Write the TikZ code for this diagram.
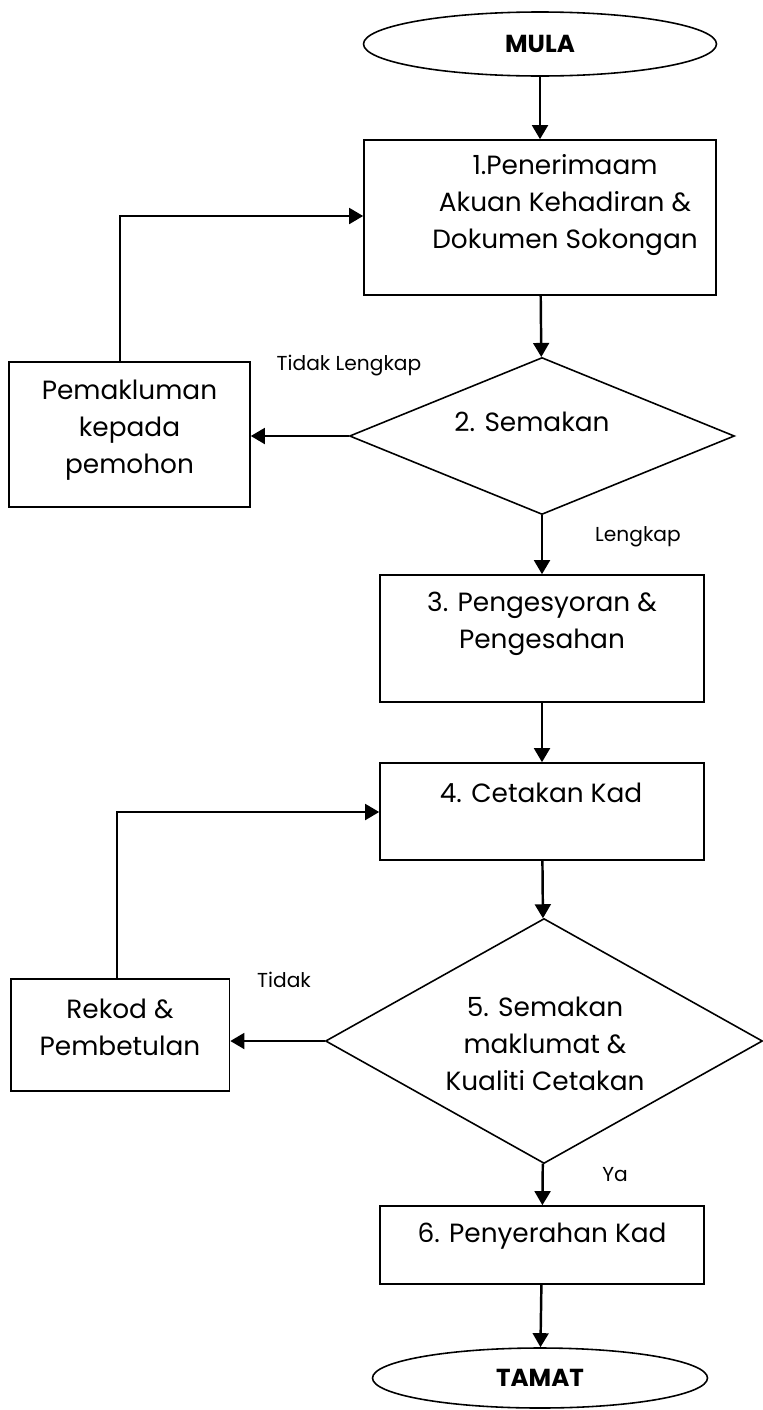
\documentclass[tikz,border=0pt]{standalone}
\usepackage{fontspec}
\setmainfont{Poppins}
\usetikzlibrary{shapes.geometric, positioning, arrows.meta, fit}
\newdimen\pxu
\pxu=0.02cm

\begin{document}
\begin{tikzpicture}[x=0.02cm, y=-0.02cm,
    box/.style={draw, line width=0.9pt, rectangle, inner sep=0pt},
    decision/.style={draw, line width=0.9pt, diamond, inner sep=0pt},
    terminal/.style={draw, line width=0.9pt, ellipse, inner sep=0pt, font=\fontsize{14}{16}\selectfont\bfseries},
    txt/.style={align=center, font=\fontsize{15}{21}\selectfont},
    note/.style={font=\fontsize{11.5}{13}\selectfont},
    flow/.style={-{Triangle[length=8pt, width=9pt]}, line width=1.4pt}]
    \useasboundingbox (0,0) rectangle (762,1410);

    % Start
    \node[terminal, minimum width=353*\pxu, minimum height=64*\pxu] (mula) at (540,44) {MULA};

    % Step 1
    \node[box, fit={(364,140) (716,295)}] (b1) {};
    \node[txt] (t1) at (565,205) {1.Penerimaam\\Akuan Kehadiran \&\\Dokumen Sokongan};

    % Step 2 (check) and the notice box on the left
    \node[decision, minimum width=385*\pxu, minimum height=157*\pxu] (d2) at (542,436) {};
    \node[txt] (t2) at (532,422) {2. Semakan};
    \node[box, fit={(9,362) (250,507)}] (p1) {};
    \node[txt] (tp1) at (129.5,430) {Pemakluman\\kepada\\pemohon};

    % Step 3 and 4
    \node[box, fit={(380,575) (704,702)}] (b3) {};
    \node[txt] (t3) at (542,623.5) {3. Pengesyoran \&\\Pengesahan};
    \node[box, fit={(380,763) (704,860)}] (b4) {};
    \node[txt] (t4) at (541,793) {4. Cetakan Kad};

    % Step 5 (check) and the correction box on the left
    \node[decision, minimum width=437*\pxu, minimum height=245*\pxu] (d5) at (544,1041) {};
    \node[txt] (t5) at (545,1044) {5. Semakan\\maklumat \&\\Kualiti Cetakan};
    \node[box, fit={(11,979) (229.5,1091)}] (r5) {};
    \node[txt] (tr5) at (120,1027) {Rekod \&\\Pembetulan};

    % Step 6 and end
    \node[box, fit={(380,1206) (704,1284)}] (b6) {};
    \node[txt] (t6) at (542,1236) {6. Penyerahan Kad};
    \node[terminal, minimum width=335*\pxu, minimum height=60*\pxu] (tamat) at (540,1378) {TAMAT};

    % Branch labels
    \node[note] (nl1) at (349,366) {Tidak Lengkap};
    \node[note] (nl2) at (638,537) {Lengkap};
    \node[note] (nl3) at (284,980) {Tidak};
    \node[note] (nl4) at (615,1175) {Ya};

    % Main flow
    \draw[flow] (mula) -- (b1);
    \draw[flow] (b1) -- (d2);
    \draw[flow] (d2) -- (b3);
    \draw[flow] (b3) -- (b4);
    \draw[flow] (b4) -- (d5);
    \draw[flow] (d5) -- (b6);
    \draw[flow] (b6) -- (tamat);

    % Loops back
    \coordinate (k1) at (120,216);
    \coordinate (k2) at (117,812);
    \draw[flow] (d2.west) -- (d2.west -| p1.east);
    \draw[flow] (p1.north -| k1) -- (k1) -- (k1 -| b1.west);
    \draw[flow] (d5.west) -- (d5.west -| r5.east);
    \draw[flow] (r5.north -| k2) -- (k2) -- (k2 -| b4.west);
\end{tikzpicture}
\end{document}
